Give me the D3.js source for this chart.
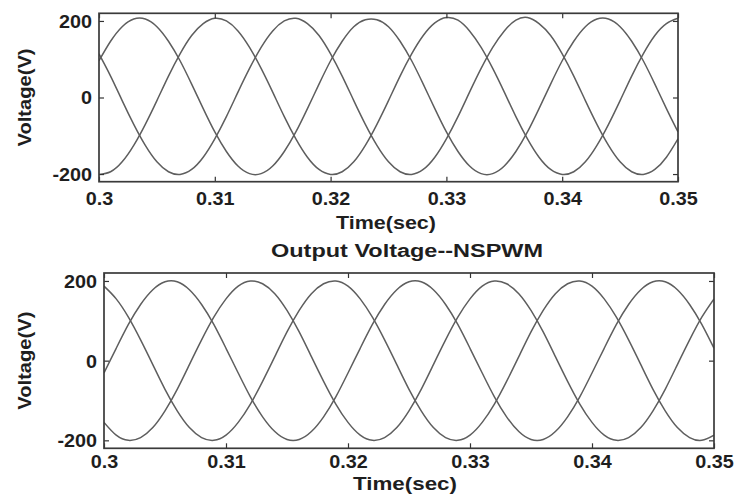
<!DOCTYPE html>
<html>
<head>
<meta charset="utf-8">
<script src="https://cdn.jsdelivr.net/npm/d3@7/dist/d3.min.js"></script>
<style>
  html, body { margin: 0; padding: 0; background: #fff; }
  svg { display: block; }
  text { font-family: "Liberation Sans", Arial, sans-serif; font-weight: bold; fill: #1e1e1e; }
</style>
</head>
<body>
<svg id="chart" width="739" height="497"></svg>
<script>
// ---- data ----
const time = [0.300,0.301,0.302,0.303,0.304,0.305,0.306,0.307,0.308,0.309,
  0.310,0.311,0.312,0.313,0.314,0.315,0.316,0.317,0.318,0.319,
  0.320,0.321,0.322,0.323,0.324,0.325,0.326,0.327,0.328,0.329,
  0.330,0.331,0.332,0.333,0.334,0.335,0.336,0.337,0.338,0.339,
  0.340,0.341,0.342,0.343,0.344,0.345,0.346,0.347,0.348,0.349,0.350];

// upper panel (three phases)
const topA = [96,147,185,205,205,185,147,96,35,-29,-90,-141,-179,-199,-199,-179,-141,-90,-29,35,
  96,147,185,203,203,185,147,96,35,-29,-90,-141,-179,-199,-199,-179,-141,-90,-29,35,
  96,147,185,205,205,185,147,96,35,-29,-90];
const topB = [114,56,-8,-70,-125,-168,-194,-201,-188,-156,-108,-50,14,76,131,174,200,207,193,162,
  114,56,-8,-70,-125,-168,-194,-201,-188,-156,-108,-50,14,76,131,174,202,209,193,162,
  114,56,-8,-70,-125,-168,-194,-201,-188,-156,-108];
const topC = [-201,-194,-168,-125,-70,-8,56,114,162,193,207,200,174,131,76,14,-50,-108,-156,-188,
  -201,-194,-168,-125,-70,-8,56,114,162,195,209,202,174,131,76,14,-50,-108,-156,-188,
  -201,-194,-168,-125,-70,-8,56,114,162,193,207];

// lower panel "Output Voltage--NSPWM" (three phases)
const botA = [-31,31,91,141,178,198,198,178,141,91,31,-31,-91,-141,-178,-198,-198,-178,-141,-91,
  -31,31,91,141,178,198,198,178,141,91,31,-31,-91,-141,-178,-198,-198,-178,-141,-91,
  -31,31,91,141,178,198,198,178,141,91,31];
const botB = [187,155,109,52,-10,-72,-126,-168,-193,-200,-187,-155,-109,-52,10,72,126,168,193,200,
  187,155,109,52,-10,-72,-126,-168,-193,-200,-187,-155,-109,-52,10,72,126,168,193,200,
  187,155,109,52,-10,-72,-126,-168,-193,-200,-187];
const botC = [-155,-187,-200,-193,-168,-126,-72,-10,52,109,155,187,200,193,168,126,72,10,-52,-109,
  -155,-187,-200,-193,-168,-126,-72,-10,52,109,155,187,200,193,168,126,72,10,-52,-109,
  -155,-187,-200,-193,-168,-126,-72,-10,52,109,155];

const xTicks = [0.30, 0.31, 0.32, 0.33, 0.34, 0.35];
const xTickLabels = ["0.3", "0.31", "0.32", "0.33", "0.34", "0.35"];
const yTicks = [-200, 0, 200];
const yTickLabels = ["-200", "0", "200"];
const xDomain = [0.30, 0.35];
const yDomain = [-220, 220];

const yLabel = "Voltage(V)";
const xLabel = "Time(sec)";
const bottomTitle = "Output Voltage--NSPWM";

// ---- drawing ----
const svg = d3.select("#chart");

function stretch(sel, factor) {
  sel.each(function () {
    const len = this.getComputedTextLength();
    d3.select(this).attr("textLength", len * factor).attr("lengthAdjust", "spacingAndGlyphs");
  });
}

function panel(cfg) {
  const { left, right, top, bottom, series } = cfg;
  const x = d3.scaleLinear().domain(xDomain).range([left, right]);
  const y = d3.scaleLinear().domain(yDomain).range([bottom, top]);
  const g = svg.append("g");

  const clipId = "clip" + Math.round(top);
  g.append("clipPath").attr("id", clipId)
    .append("rect").attr("x", left).attr("y", top).attr("width", right - left).attr("height", bottom - top);

  const line = d3.line().x((d, i) => x(time[i])).y(d => y(d)).curve(d3.curveNatural);
  g.append("g").attr("clip-path", `url(#${clipId})`)
    .selectAll("path").data(series).join("path")
    .attr("d", d => line(d))
    .attr("fill", "none")
    .attr("stroke", "#5e5e5e")
    .attr("stroke-width", 1.5);

  const fmtX = d => xTickLabels[xTicks.indexOf(d)];
  const fmtY = d => yTickLabels[yTicks.indexOf(d)];

  // bottom axis with labels (inward ticks)
  const ax = g.append("g").attr("transform", `translate(0,${bottom})`)
    .call(d3.axisBottom(x).tickValues(xTicks).tickFormat(fmtX).tickSizeInner(-5).tickSizeOuter(0));
  ax.selectAll("text").attr("dy", null).attr("y", cfg.xLabelOffset).style("font-size", "18px");
  // top axis ticks only
  g.append("g").attr("transform", `translate(0,${top})`)
    .call(d3.axisTop(x).tickValues(xTicks).tickFormat("").tickSizeInner(-5).tickSizeOuter(0));
  // left axis with labels
  const ay = g.append("g").attr("transform", `translate(${left},0)`)
    .call(d3.axisLeft(y).tickValues(yTicks).tickFormat(fmtY).tickSizeInner(-5).tickSizeOuter(0));
  ay.selectAll("text").attr("x", -7).attr("dy", "0.36em").style("font-size", "18px");
  // right axis ticks only
  g.append("g").attr("transform", `translate(${right},0)`)
    .call(d3.axisRight(y).tickValues(yTicks).tickFormat("").tickSizeInner(-5).tickSizeOuter(0));

  g.selectAll(".domain").remove();
  g.selectAll(".tick line").attr("stroke", "#333").attr("stroke-width", 1.2);
  g.selectAll(".tick text").attr("fill", "#1e1e1e").style("font-family", "'Liberation Sans', Arial, sans-serif").style("font-weight", "bold");
  stretch(ax.selectAll("text"), 1.1);
  stretch(ay.selectAll("text"), 1.1);

  // frame
  g.append("rect").attr("x", left).attr("y", top).attr("width", right - left).attr("height", bottom - top)
    .attr("fill", "none").attr("stroke", "#3a3a3a").attr("stroke-width", 1.7);

  // axis titles
  const yl = g.append("text")
    .attr("transform", `translate(${cfg.yLabelX},${(top + bottom) / 2}) rotate(-90)`)
    .attr("text-anchor", "middle").attr("dy", "0.35em")
    .style("font-size", "18px").text(yLabel);
  yl.attr("textLength", 98).attr("lengthAdjust", "spacingAndGlyphs");

  const xl = g.append("text")
    .attr("x", cfg.xTitleX).attr("y", cfg.xTitleY)
    .attr("text-anchor", "middle")
    .style("font-size", "18px").text(xLabel);
  xl.attr("textLength", cfg.xTitleLen).attr("lengthAdjust", "spacingAndGlyphs");
  return { x, y };
}

panel({ left: 99, right: 678, top: 13.3, bottom: 181.7, series: [topA, topB, topC],
  xLabelOffset: 23, yLabelX: 25, xTitleX: 386, xTitleY: 229, xTitleLen: 100 });
panel({ left: 104, right: 714, top: 273, bottom: 448.3, series: [botA, botB, botC],
  xLabelOffset: 20, yLabelX: 25, xTitleX: 405, xTitleY: 490, xTitleLen: 104 });

svg.append("text")
  .attr("x", 407).attr("y", 257)
  .attr("text-anchor", "middle")
  .style("font-size", "18px")
  .attr("textLength", 272).attr("lengthAdjust", "spacingAndGlyphs")
  .text(bottomTitle);
</script>
</body>
</html>
